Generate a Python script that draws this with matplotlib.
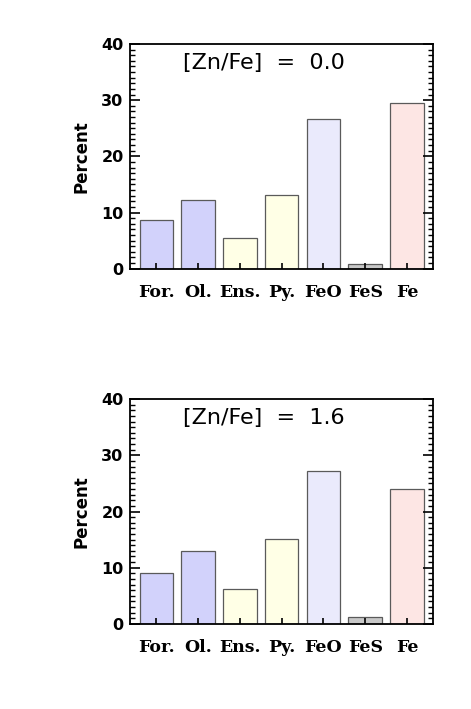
import matplotlib.pyplot as plt
from matplotlib.ticker import MultipleLocator

labels = ['For.', 'Ol.', 'Ens.', 'Py.', 'FeO', 'FeS', 'Fe']
pct_zn00 = [8.6, 12.3, 5.4, 13.2, 26.7, 0.8, 29.5]
pct_zn16 = [9.0, 13.0, 6.3, 15.1, 27.2, 1.3, 24.1]
titles = ['[Zn/Fe]  =  0.0', '[Zn/Fe]  =  1.6']
colors = ['#d2d2fb', '#d2d2fb', '#ffffe6', '#ffffe6', '#eaeafc', '#c8c8c8', '#fde6e4']

fig = plt.figure(figsize=(4.71, 7.09), dpi=100)
boxes = [[0.277, 0.621, 0.642, 0.317], [0.277, 0.120, 0.642, 0.317]]

for box, vals, title in zip(boxes, [pct_zn00, pct_zn16], titles):
    ax = fig.add_axes(box)
    x = range(len(labels))
    ax.bar(x, vals, width=0.8, color=colors, edgecolor='#5a5a5a', linewidth=0.9, zorder=1)
    ax.set_xlim(-0.62, 6.62)
    ax.set_ylim(0, 39.8)
    ax.yaxis.set_major_locator(MultipleLocator(10))
    ax.yaxis.set_minor_locator(MultipleLocator(1))
    ax.set_yticks([0, 10, 20, 30, 40])
    ax.set_xticks(list(x))
    ax.set_xticklabels(labels, family='DejaVu Serif', fontweight='bold', fontsize=12.5)
    for t in ax.get_yticklabels():
        t.set_fontweight('bold')
        t.set_fontsize(11.5)
    ax.tick_params(axis='y', which='major', direction='in', length=7, width=1.2,
                   left=True, right=True, pad=5)
    ax.tick_params(axis='y', which='minor', direction='in', length=3.5, width=1,
                   left=True, right=True)
    ax.tick_params(axis='x', which='major', direction='in', length=4, width=1.2,
                   top=False, pad=11)
    for s in ax.spines.values():
        s.set_linewidth(1.3)
        s.set_zorder(5)
    ax.set_ylabel('Percent', fontweight='bold', fontsize=12, labelpad=8)
    ax.text(0.44, 0.915, title, transform=ax.transAxes, ha='center', va='center',
            fontsize=16)

fig.savefig('out.png', dpi=100)
